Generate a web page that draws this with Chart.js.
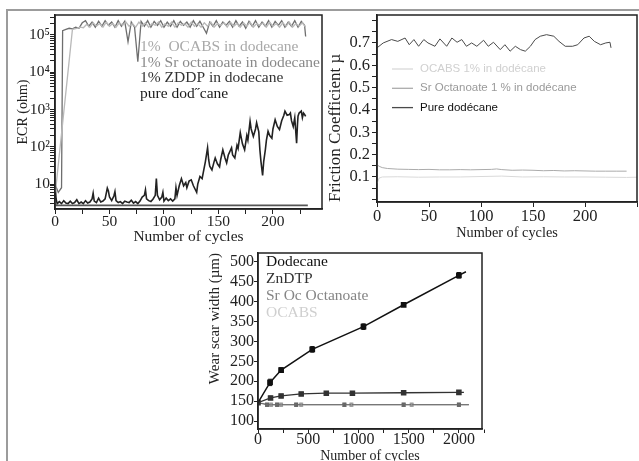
<!DOCTYPE html>
<html>
<head>
<meta charset="utf-8">
<script src="https://cdn.jsdelivr.net/npm/chart.js@4"></script>
<style>
  html, body { margin: 0; padding: 0; background: #fff; overflow: hidden; }
  #page { position: relative; width: 639px; height: 461px; }
  #frame { position: absolute; left: 6px; top: 9px; width: 640px; height: 460px;
           border-top: 2px solid #9c9c9c; border-left: 2px solid #9c9c9c; }
  canvas { position: absolute; }
</style>
</head>
<body>
<div id="page">
  <div id="frame"></div>
  <canvas id="ecr" width="330" height="250" style="left:0;top:0"></canvas>
  <canvas id="friction" width="314" height="250" style="left:325px;top:0"></canvas>
  <canvas id="wear" width="300" height="230" style="left:190px;top:240px"></canvas>
</div>
<script>
const SERIF = "'Liberation Serif', 'Times New Roman', serif";
const SANS = "'Liberation Sans', Arial, sans-serif";

// ---- ECR panel (log scale, ohm) ----
const ecrXTicks = [0, 50, 100, 150, 200];
const ecrXMinor = [25, 75, 125, 175, 225];
const ecrYTicks = [10, 100, 1000, 10000, 100000];
const ecrYLabels = ["10", "10²", "10³", "10⁴", "10⁵"];

const ecrOcabsCycles = [0, 1, 16,
  20, 23, 26, 29, 32, 35, 38, 41, 44, 47, 50, 53, 56, 59, 62, 65, 68, 71, 74, 77,
  80, 83, 86, 89, 92, 95, 98, 101, 104, 107, 110, 113, 116, 119, 122, 125, 128, 131,
  134, 137, 140, 143, 146, 149, 152, 155, 158, 161, 164, 167, 170, 173, 176, 179, 182,
  185, 188, 191, 194, 197, 200, 203, 206, 209, 212, 215, 218, 221, 224, 227, 230];
const ecrOcabs = [6, 9, 1.4e5,
  1.5e5, 1.6e5, 1.55e5, 1.9e5, 1.6e5, 2.1e5, 1.7e5, 2.0e5, 1.6e5, 2.2e5,
  1.7e5, 2.0e5, 1.6e5, 2.1e5, 1.8e5, 2.2e5, 1.7e5, 2.0e5, 1.6e5, 2.2e5,
  1.7e5, 2.1e5, 1.6e5, 2.0e5, 1.8e5, 2.2e5, 1.6e5, 2.0e5, 1.7e5, 2.2e5,
  1.6e5, 2.1e5, 1.8e5, 2.0e5, 1.6e5, 2.2e5, 1.7e5, 2.0e5, 1.6e5, 2.1e5,
  1.7e5, 2.2e5, 1.6e5, 2.0e5, 1.8e5, 2.1e5, 1.6e5, 2.2e5, 1.7e5, 2.0e5,
  1.6e5, 2.1e5, 1.7e5, 2.2e5, 1.6e5, 2.0e5, 1.8e5, 2.1e5, 1.6e5, 2.2e5,
  1.7e5, 2.0e5, 1.6e5, 2.1e5, 1.7e5, 2.2e5, 1.6e5, 2.0e5, 1.7e5, 2.1e5,
  1.6e5];

const ecrSrCycles = [0, 3, 6, 7,
  10, 13, 16, 19, 22, 25, 28, 31, 34, 37, 40, 43, 46, 49, 52, 55, 58, 61, 64, 67,
  70, 73, 76, 79, 82, 85, 88, 91, 94, 97, 100, 103, 106, 109, 112, 115, 118, 121,
  124, 127, 130, 133, 136, 139, 142, 145, 148, 151, 154, 157, 160, 163, 166, 169,
  172, 175, 178, 181, 184, 187, 190, 193, 196, 199, 202, 205, 208, 211, 214, 217,
  220, 223, 226, 229, 230];
const ecrSr = [10, 6, 8, 1.3e5,
  1.4e5, 1.5e5, 1.45e5, 1.6e5, 1.5e5, 2.1e5, 2.4e5, 1.7e5, 2.2e5, 1.6e5,
  2.3e5, 1.7e5, 2.4e5, 1.8e5, 2.2e5, 1.6e5, 2.4e5, 1.7e5, 2.3e5, 6.5e4,
  2.2e5, 1.6e5, 1.9e4, 2.3e5, 1.7e5, 2.4e5, 1.6e5, 2.3e5, 1.8e5, 2.4e5,
  1.6e5, 2.2e5, 1.7e5, 2.4e5, 1.6e5, 2.3e5, 1.8e5, 2.2e5, 1.6e5, 2.4e5,
  1.7e5, 2.3e5, 1.6e5, 1.1e5, 2.2e5, 1.7e5, 2.4e5, 1.6e5, 2.2e5, 1.8e5,
  2.3e5, 1.6e5, 2.4e5, 1.7e5, 2.2e5, 1.5e5, 2.3e5, 1.7e5, 2.4e5, 1.6e5,
  2.2e5, 1.7e5, 2.4e5, 1.6e5, 2.3e5, 1.8e5, 2.4e5, 1.6e5, 2.2e5, 1.7e5,
  2.4e5, 1.6e5, 2.3e5, 1.8e5,
  9e4];

const ecrZddpCycles = [0, 232];
const ecrZddp = [2.7, 2.7];

const ecrDodecaneCycles = [0, 1, 2, 4, 6, 8, 10, 12, 14, 16, 18, 20, 22, 24, 26, 28, 30, 32,
  34, 35, 36, 38, 40, 42, 44, 46, 48, 49, 50, 52, 54, 55, 56, 58, 60, 62, 64, 66, 68, 70,
  72, 74, 76, 78, 80, 82, 83, 84, 86, 88, 90, 92, 93, 94, 96, 98, 99, 100, 102, 104, 106,
  108, 110,
  111, 112, 114, 116, 118, 120, 121, 123, 125, 127, 130, 131, 133, 135, 136, 138, 140,
  141, 142, 144, 146, 147, 149, 151, 152, 154, 156, 157.5, 159, 160, 162, 163, 165, 167,
  168, 170, 172, 174, 176, 177, 179, 180, 182, 184, 185, 187, 188, 189, 190.5, 191.5, 193,
  194, 195.5, 197, 199, 200, 202, 204, 206, 208, 210, 211, 213, 215, 216, 217, 218.6, 220,
  221.7, 222.5, 223, 224, 226, 227, 228, 229, 230];
const ecrDodecane = [10, 4, 3, 3.4, 3, 3.6, 3.1, 3, 3.5, 3,
  3.2, 3.8, 3, 3.3, 3, 3.6, 3.1, 3.3, 4, 5.7,
  3.5, 3.2, 4.2, 3.3, 3.5, 4, 7.8, 6.5, 4.5, 3.6,
  4.8, 6.3, 3.6, 3.2, 3.4, 3, 3.5, 3.3, 3.2, 3.7,
  3.1, 3.4, 3, 3.5, 4.5, 5, 7, 4, 3.6, 3.4,
  4, 5, 14, 5, 3.8, 4.5, 6, 3.5, 4.2, 3.6,
  4, 3.5, 4,
  8, 5, 9, 14, 9, 11, 8, 12, 13, 9,
  6, 10, 16, 14, 20, 40, 94, 45, 30, 24,
  40, 50, 35, 29, 45, 83, 50, 37, 60, 70,
  94, 60, 50, 110, 90, 240, 120, 83, 200, 150,
  480, 300, 190, 300, 440, 250, 83, 40, 17, 40,
  83, 150, 260, 200, 170, 300, 530, 350, 290, 500,
  700, 900, 700, 730, 800, 500, 350, 600, 125, 400,
  660, 800, 900, 600, 800, 730, 650];

// ---- Friction panel ----
const fricXTicks = [0, 50, 100, 150, 200];
const fricXMinor = [250];
const fricYTicks = [0.1, 0.2, 0.3, 0.4, 0.5, 0.6, 0.7];
const fricYMinor = [0, 0.05, 0.15, 0.25, 0.35, 0.45, 0.55, 0.65, 0.75, 0.8];

const fricOcabsCycles = [0, 2, 5, 20, 40, 60, 80, 100, 120, 140, 160, 180, 200, 220, 240, 250];
const fricOcabs = [0.07, 0.095, 0.1, 0.101, 0.099, 0.1, 0.1, 0.102, 0.104, 0.1, 0.101, 0.1, 0.1, 0.099, 0.098, 0.099];

const fricSrCycles = [0, 2, 5, 10, 20, 30, 40, 50, 60, 70, 80, 90, 100, 110, 115, 120, 130, 140,
  150, 160, 170, 180, 190, 200, 210, 220, 230, 240];
const fricSr = [0.155, 0.148, 0.142, 0.138, 0.135, 0.134, 0.133, 0.134, 0.132, 0.132, 0.133, 0.132,
  0.133, 0.134, 0.136, 0.133, 0.130, 0.131, 0.130, 0.128, 0.129, 0.127, 0.128, 0.127, 0.126,
  0.126, 0.126, 0.126];

const fricDodecaneCycles = [0, 6, 14, 20, 27, 31, 35.5, 40, 45, 49, 55.7, 60.5, 67, 72, 77, 81.5,
  86, 91, 96, 102.5, 107, 112, 118.5, 123, 128, 133, 138, 142.6, 147.5, 152, 157, 163, 170,
  175, 181, 188, 193, 199, 204, 209, 215, 220, 224, 225];
const fricDodecane = [0.678, 0.70, 0.715, 0.707, 0.722, 0.692, 0.715, 0.685, 0.715, 0.70,
  0.685, 0.718, 0.685, 0.722, 0.703, 0.715, 0.685, 0.70, 0.685, 0.712,
  0.685, 0.703, 0.67, 0.692, 0.663, 0.685, 0.67, 0.663, 0.685, 0.715,
  0.73, 0.737, 0.73, 0.707, 0.685, 0.685, 0.692, 0.722, 0.73, 0.707,
  0.692, 0.70, 0.703, 0.678];

// ---- Wear scar panel ----
const wearXTicks = [0, 500, 1000, 1500, 2000];
const wearXMinor = [250, 750, 1250, 1750, 2250];
const wearYTicks = [100, 150, 200, 250, 300, 350, 400, 450, 500];

const wearDodecaneCycles = [0, 120, 230, 540, 1050, 1450, 2000, 2070];
const wearDodecane = [146, 197, 228, 280, 337, 392, 466, 475];
const wearDodecaneErr = [0, 8, 6, 7, 7, 4, 7, 0];

const wearZndtpCycles = [0, 125, 230, 430, 680, 940, 1450, 2000, 2050];
const wearZndtp = [146, 158, 163, 168, 170, 170, 171, 172, 172];
const wearZndtpErr = [0, 4, 4, 4, 4, 4, 4, 4, 0];

const wearSrCycles = [0, 90, 190, 380, 860, 1450, 2000, 2100];
const wearSr = [146, 141, 141, 141, 141, 141, 141, 141];
const wearSrErr = [0, 4, 4, 4, 4, 4, 4, 0];

const wearOcabsCycles = [0, 130, 230, 430, 930, 1530, 2100];
const wearOcabs = [146, 141, 141, 141, 141, 141, 141];
const wearOcabsErr = [0, 4, 4, 4, 4, 4, 0];

// ---- helpers ----
const pairs = (xs, ys) => xs.map((x, i) => ({ x: x, y: ys[i] }));

const ticksFrom = (major, minor) => (scale) => {
  const all = major.map((v) => ({ value: v, major: true }))
    .concat(minor.map((v) => ({ value: v })));
  all.sort((a, b) => a.value - b.value);
  scale.ticks = all;
};

const labelFrom = (major, labels) => (value) => {
  const i = major.indexOf(value);
  if (i < 0) return "";
  return labels ? labels[i] : String(value);
};

const logMinor = (min, max) => {
  const out = [];
  for (let d = 1; d <= 1e5; d *= 10) {
    for (let m = 2; m <= 9; m++) {
      const v = m * d;
      if (v > min && v < max) out.push(v);
    }
  }
  return out;
};

const frame = {
  id: "frame",
  afterDraw(chart) {
    const a = chart.chartArea;
    const ctx = chart.ctx;
    ctx.save();
    ctx.strokeStyle = "#222";
    ctx.lineWidth = 1.5;
    ctx.strokeRect(a.left, a.top, a.right - a.left, a.bottom - a.top);
    ctx.restore();
  },
};

const textLegend = {
  id: "textLegend",
  afterDraw(chart, args, opts) {
    const ctx = chart.ctx;
    ctx.save();
    ctx.font = opts.font;
    ctx.textBaseline = "middle";
    let row = 0;
    chart.data.datasets.forEach((ds) => {
      if (!ds.legend) return;
      const y = opts.y + row * opts.dy;
      if (opts.sample) {
        ctx.strokeStyle = ds.borderColor;
        ctx.lineWidth = 1.3;
        ctx.beginPath();
        ctx.moveTo(opts.x - opts.sample - 7, y);
        ctx.lineTo(opts.x - 7, y);
        ctx.stroke();
      }
      ctx.fillStyle = ds.textColor || ds.borderColor;
      ctx.fillText(ds.label, opts.x, y);
      row++;
    });
    ctx.restore();
  },
};

const errorBars = {
  id: "errorBars",
  afterDatasetsDraw(chart) {
    const ctx = chart.ctx;
    const ys = chart.scales.y;
    chart.data.datasets.forEach((ds, i) => {
      if (!ds.errors) return;
      const meta = chart.getDatasetMeta(i);
      ctx.save();
      ctx.strokeStyle = ds.borderColor;
      ctx.lineWidth = 1;
      meta.data.forEach((pt, j) => {
        const e = ds.errors[j];
        if (!e) return;
        const v = ds.data[j].y;
        const y1 = ys.getPixelForValue(v + e);
        const y2 = ys.getPixelForValue(v - e);
        ctx.beginPath();
        ctx.moveTo(pt.x, y1); ctx.lineTo(pt.x, y2);
        ctx.moveTo(pt.x - 2, y1); ctx.lineTo(pt.x + 2, y1);
        ctx.moveTo(pt.x - 2, y2); ctx.lineTo(pt.x + 2, y2);
        ctx.stroke();
      });
      ctx.restore();
    });
  },
};

const axisBase = (tickLength) => ({
  grid: { drawOnChartArea: false, drawTicks: true, tickLength: tickLength, color: "#222", tickWidth: 1 },
  border: { display: true, color: "#222", width: 1.5 },
});

const baseOptions = (padding) => ({
  responsive: false,
  animation: false,
  devicePixelRatio: 1,
  layout: { padding: padding },
  elements: { point: { radius: 0 }, line: { tension: 0, borderWidth: 1.3 } },
});

// ---- ECR chart ----
new Chart(document.getElementById("ecr"), {
  type: "line",
  data: {
    datasets: [
      { label: "1%  OCABS in dodecane", legend: true, data: pairs(ecrOcabsCycles, ecrOcabs), borderColor: "#b9b9b9", textColor: "#a9a9a9" },
      { label: "1% Sr octanoate in dodecane", legend: true, data: pairs(ecrSrCycles, ecrSr), borderColor: "#6e6e6e", textColor: "#8a8a8a" },
      { label: "1% ZDDP in dodecane", legend: true, data: pairs(ecrZddpCycles, ecrZddp), borderColor: "#555", textColor: "#333", borderWidth: 1.8 },
      { label: "pure dod˝cane", legend: true, data: pairs(ecrDodecaneCycles, ecrDodecane), borderColor: "#222", textColor: "#1a1a1a", borderWidth: 1.6 },
    ],
  },
  options: Object.assign(baseOptions({ left: 0, top: 15, right: 8, bottom: 0 }), {
    plugins: {
      legend: { display: false },
      tooltip: { enabled: false },
      textLegend: { x: 140, y: 47, dy: 15.5, font: "15.5px " + SERIF },
    },
    scales: {
      x: Object.assign(axisBase(5), {
        type: "linear", min: 0, max: 245,
        afterFit: (s) => { s.height = 41; },
        afterBuildTicks: ticksFrom(ecrXTicks, ecrXMinor),
        ticks: { autoSkip: false, maxRotation: 0, padding: -1, color: "#222",
                 font: { family: SERIF, size: 15.5 }, callback: labelFrom(ecrXTicks) },
        title: { display: true, text: "Number of cycles", color: "#222",
                 font: { family: SERIF, size: 15.5 }, padding: { top: 0, bottom: 4 } },
      }),
      y: Object.assign(axisBase(5), {
        type: "logarithmic", min: 2.15, max: 3.4e5,
        afterFit: (s) => { s.width = 55; },
        afterBuildTicks: ticksFrom(ecrYTicks, logMinor(2.15, 3.4e5)),
        ticks: { autoSkip: false, padding: 0, color: "#222",
                 font: { family: SERIF, size: 15.5 }, callback: labelFrom(ecrYTicks, ecrYLabels) },
        title: { display: true, text: "ECR (ohm)", color: "#222",
                 font: { family: SERIF, size: 14 }, padding: { top: 15, bottom: 0 } },
      }),
    },
  }),
  plugins: [frame, textLegend],
});

// ---- Friction chart ----
new Chart(document.getElementById("friction"), {
  type: "line",
  data: {
    datasets: [
      { label: "OCABS 1% in dodécane", legend: true, data: pairs(fricOcabsCycles, fricOcabs), borderColor: "#d9d9d9", textColor: "#d0d0d0", borderWidth: 1 },
      { label: "Sr Octanoate 1 % in dodécane", legend: true, data: pairs(fricSrCycles, fricSr), borderColor: "#ababab", textColor: "#9a9a9a", borderWidth: 1 },
      { label: "Pure dodécane", legend: true, data: pairs(fricDodecaneCycles, fricDodecane), borderColor: "#4a4a4a", textColor: "#111", borderWidth: 1 },
    ],
  },
  options: Object.assign(baseOptions({ left: 0, top: 15, right: 2, bottom: 0 }), {
    plugins: {
      legend: { display: false },
      tooltip: { enabled: false },
      textLegend: { x: 95, y: 69, dy: 19.3, font: "11.5px " + SANS, sample: 21 },
    },
    scales: {
      x: Object.assign(axisBase(5), {
        type: "linear", min: 0, max: 250,
        afterFit: (s) => { s.height = 48; },
        afterBuildTicks: ticksFrom(fricXTicks, fricXMinor),
        ticks: { autoSkip: false, maxRotation: 0, padding: 0, color: "#222",
                 font: { family: SERIF, size: 16.5 }, callback: labelFrom(fricXTicks) },
        title: { display: true, text: "Number of cycles", color: "#222",
                 font: { family: SERIF, size: 14.3 }, padding: { top: 0, bottom: 8 } },
      }),
      y: Object.assign(axisBase(5), {
        type: "linear", min: -0.012, max: 0.825,
        afterFit: (s) => { s.width = 52; },
        afterBuildTicks: ticksFrom(fricYTicks, fricYMinor),
        ticks: { autoSkip: false, padding: 2, color: "#222",
                 font: { family: SERIF, size: 16.5 },
                 callback: labelFrom(fricYTicks, fricYTicks.map((v) => v.toFixed(1))) },
        title: { display: true, text: "Friction Coefficient µ", color: "#222", align: "start",
                 font: { family: SERIF, size: 17 }, padding: { top: 0, bottom: 0 } },
      }),
    },
  }),
  plugins: [frame, textLegend],
});

// ---- Wear scar chart ----
new Chart(document.getElementById("wear"), {
  type: "line",
  data: {
    datasets: [
      { label: "Dodecane", legend: true, data: pairs(wearDodecaneCycles, wearDodecane), errors: wearDodecaneErr,
        borderColor: "#111", textColor: "#111", pointStyle: "rect", pointBackgroundColor: "#111",
        pointRadius: [0, 3, 3, 3, 3, 3, 3, 0], borderWidth: 1.5 },
      { label: "ZnDTP", legend: true, data: pairs(wearZndtpCycles, wearZndtp), errors: wearZndtpErr,
        borderColor: "#333", textColor: "#333", pointStyle: "rect", pointBackgroundColor: "#333",
        pointRadius: [3, 3, 3, 3, 3, 3, 3, 3, 0], borderWidth: 1.3 },
      { label: "Sr Oc Octanoate", legend: true, data: pairs(wearSrCycles, wearSr), errors: wearSrErr,
        borderColor: "#666", textColor: "#858585", pointStyle: "rect", pointBackgroundColor: "#777",
        pointRadius: [0, 2, 2, 2, 2, 2, 2, 0], borderWidth: 1.1 },
      { label: "OCABS", legend: true, data: pairs(wearOcabsCycles, wearOcabs), errors: wearOcabsErr,
        borderColor: "#9a9a9a", textColor: "#cfcfcf", pointStyle: "rect", pointBackgroundColor: "#999",
        pointRadius: [0, 2, 2, 2, 2, 2, 0], borderWidth: 1 },
    ],
  },
  options: Object.assign(baseOptions({ left: 0, top: 13, right: 8, bottom: 0 }), {
    plugins: {
      legend: { display: false },
      tooltip: { enabled: false },
      textLegend: { x: 76, y: 22, dy: 17, font: "15.5px " + SERIF },
    },
    scales: {
      x: Object.assign(axisBase(4), {
        type: "linear", min: 0, max: 2230,
        afterFit: (s) => { s.height = 41; },
        afterBuildTicks: ticksFrom(wearXTicks, wearXMinor),
        ticks: { autoSkip: false, maxRotation: 0, padding: -2.5, color: "#222",
                 font: { family: SERIF, size: 16 }, callback: labelFrom(wearXTicks) },
        title: { display: true, text: "Number of cycles", color: "#222",
                 font: { family: SERIF, size: 14 }, padding: { top: 0, bottom: 5.5 } },
      }),
      y: Object.assign(axisBase(4), {
        type: "linear", min: 80, max: 522,
        afterFit: (s) => { s.width = 68; },
        afterBuildTicks: ticksFrom(wearYTicks, []),
        ticks: { autoSkip: false, padding: 0, color: "#222",
                 font: { family: SERIF, size: 16 }, callback: labelFrom(wearYTicks) },
        title: { display: true, text: "Wear scar width (µm)", color: "#222", align: "end",
                 font: { family: SERIF, size: 15 }, padding: { top: 16, bottom: 0 } },
      }),
    },
  }),
  plugins: [frame, textLegend, errorBars],
});
</script>
</body>
</html>
